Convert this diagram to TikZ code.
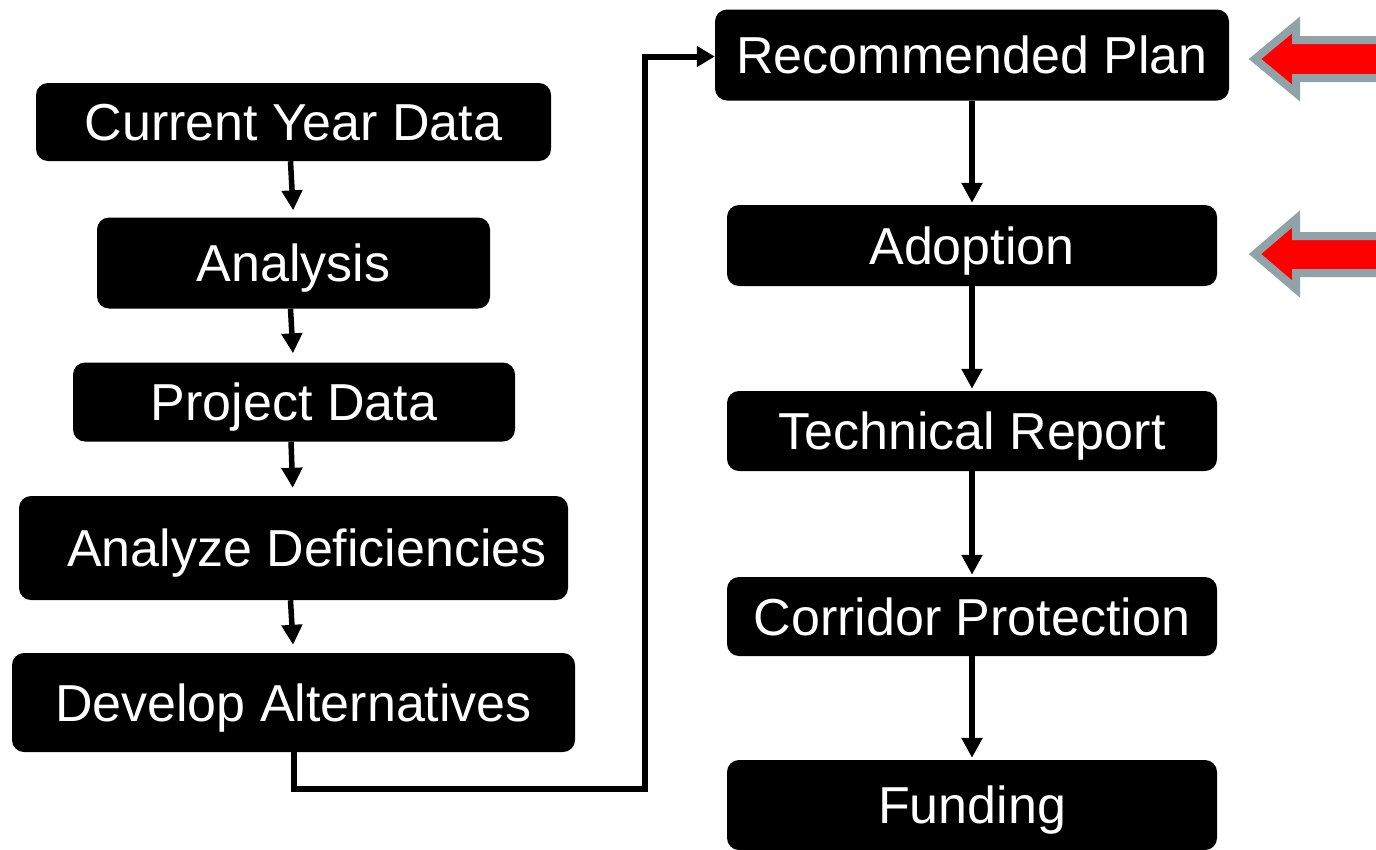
\documentclass[tikz,border=0pt]{standalone}
\usepackage{fontspec}
\setmainfont{Liberation Sans}
\usetikzlibrary{arrows.meta}
\definecolor{arrgray}{RGB}{143,163,168}
\begin{document}
\begin{tikzpicture}[x=1pt,y=-1pt,
  box/.style={fill=black, rounded corners=12pt, text=white,
    font=\fontsize{52}{60}\selectfont, inner sep=0pt,
    text height=37pt, text depth=0pt},
  flow/.style={line width=5.5pt, -{Triangle[width=20pt,length=20pt]}},
  conn/.style={line width=6pt, -{Triangle[width=20pt,length=18pt]}},
  redarrow/.style={line width=8pt, draw=arrgray, fill=red, line join=miter}]
\useasboundingbox (0,0) rectangle (1376,849);
% left column
\node[box, minimum width=515pt, minimum height=78pt]  (cyd) at (293.5,122)   {Current Year Data};
\node[box, minimum width=393pt, minimum height=91pt]  (an)  at (293.5,263) {Analysis};
\node[box, minimum width=442pt, minimum height=79pt]  (pd)  at (294,402)   {Project Data};
\node[box, minimum width=549pt, minimum height=104pt] (ad)  at (293.5,548)   {\hspace*{27pt}Analyze Deficiencies};
\node[box, minimum width=563pt, minimum height=99pt]  (dev) at (293.5,702.5) {Develop Alternatives};
% right column
\node[box, minimum width=514pt, minimum height=91pt]  (rp)  at (972,55)  {Recommended Plan};
\node[box, minimum width=490pt, minimum height=81pt]  (adp) at (972,245.5) {Adoption};
\node[box, minimum width=490pt, minimum height=80pt]  (tr)  at (972,431)   {Technical Report};
\node[box, minimum width=490pt, minimum height=79pt]  (cp)  at (972,616.5) {Corridor Protection};
\node[box, minimum width=490pt, minimum height=90pt]  (fu)  at (972,805)   {Funding};
% left arrows
\draw[flow, shorten >=7pt] ([xshift=-3pt]cyd.south) -- (an.north);
\draw[flow, shorten >=9pt] ([xshift=-3pt]an.south) -- ([xshift=-0.5pt]pd.north);
\draw[flow, shorten >=8pt] ([xshift=-3pt]pd.south) -- ([xshift=-0.5pt]ad.north);
\draw[flow, shorten >=8pt] ([xshift=-3pt]ad.south) -- (dev.north);
% right arrows
\draw[flow, shorten >=2pt] (rp.south) -- (adp.north);
\draw[flow, shorten >=2pt] (adp.south) -- (tr.north);
\draw[flow, shorten >=2pt] (tr.south) -- (cp.north);
\draw[flow, shorten >=2pt] (cp.south) -- (fu.north);
% connector
\coordinate (c2) at (645,789);
\draw[conn] (dev.south) |- (c2) |- ([yshift=-1.5pt]rp.west);
% red arrows
\draw[redarrow] (1255,59) -- (1296,25) -- (1296,40) -- (1385,40) -- (1385,78) -- (1296,78) -- (1296,93) -- cycle;
\draw[redarrow] (1255,254) -- (1296,219) -- (1296,236) -- (1385,236) -- (1385,273) -- (1296,273) -- (1296,289) -- cycle;
\end{tikzpicture}
\end{document}
